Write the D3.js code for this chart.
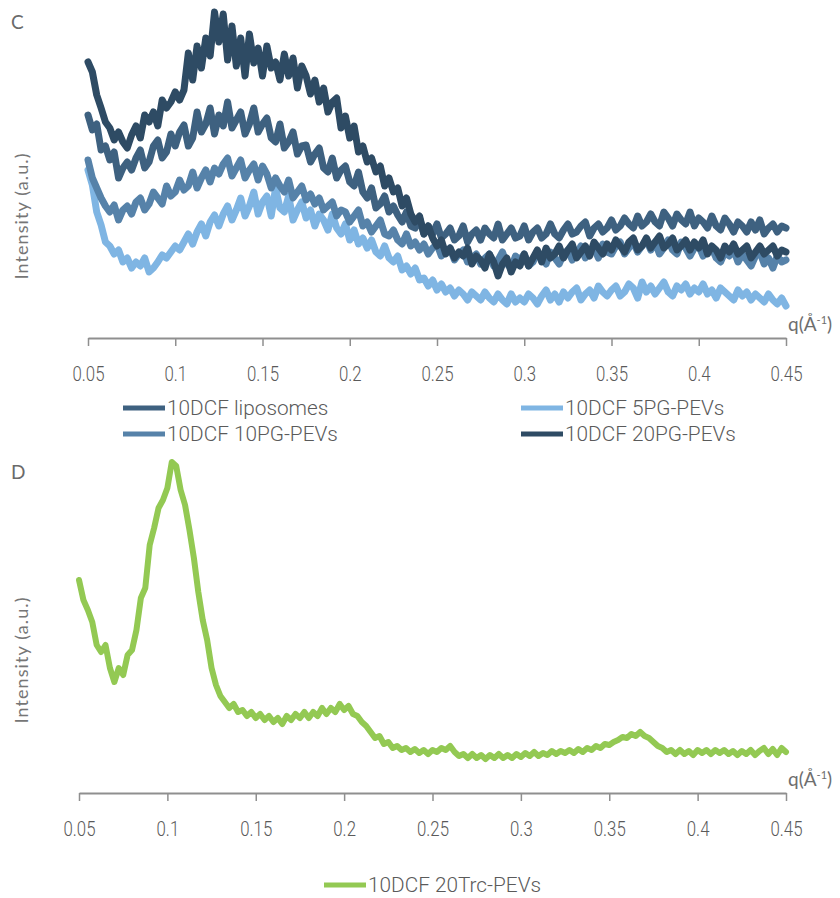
<!DOCTYPE html>
<html>
<head>
<meta charset="utf-8">
<script src="https://cdn.jsdelivr.net/npm/d3@7"></script>
<style>
  html, body { margin: 0; padding: 0; background: #ffffff; }
  svg { display: block; }
  .tick-label { font-family: "Roboto", "Liberation Sans", sans-serif; font-size: 21px; font-weight: 300; fill: #5a5a5a; }
  .legend-label { font-family: "Roboto", "Liberation Sans", sans-serif; font-size: 21px; font-weight: 300; fill: #5a5a5a; }
  .axis-title { font-family: "Lato", "Open Sans", sans-serif; font-size: 18px; fill: #767676; letter-spacing: 1.1px; }
  .q-title { font-family: "Lato", "Open Sans", sans-serif; font-size: 19px; fill: #6e6e6e; }
  .panel-letter { font-family: "Lato", "Open Sans", sans-serif; font-size: 19px; fill: #6a6a6a; }
</style>
</head>
<body>
<svg id="chart" width="840" height="898"></svg>
<script>
// q grid shared by every scattering curve (Å⁻¹)
const qStart = 0.05;
const qStep = 0.0025;

// x-axis ticks
const tickValues = [0.05, 0.1, 0.15, 0.2, 0.25, 0.3, 0.35, 0.4, 0.45];
const tickLabels = ["0.05", "0.1", "0.15", "0.2", "0.25", "0.3", "0.35", "0.4", "0.45"];

// Panel C series names
const seriesC = ["10DCF liposomes", "10DCF 5PG-PEVs", "10DCF 10PG-PEVs", "10DCF 20PG-PEVs"];
// Panel D series name
const seriesD = ["10DCF 20Trc-PEVs"];

// Panel C intensities (a.u.)
const liposomes = [
  223, 208, 214, 188, 192, 178, 186, 160, 170, 176,
  168, 180, 188, 170, 176, 192, 198, 180, 186, 204,
  192, 206, 213, 192, 200, 226, 206, 214, 230, 204,
  223, 212, 236, 210, 218, 226, 204, 214, 230, 206,
  214, 220, 200, 196, 214, 190, 196, 206, 184, 192,
  193, 176, 184, 190, 170, 166, 180, 160, 168, 172,
  156, 152, 166, 146, 140, 150, 130, 134, 142, 126,
  132, 123, 116, 126, 112, 110, 120, 104, 112, 104,
  114, 100, 104, 110, 98, 102, 112, 96, 104, 108,
  98, 110, 104, 100, 114, 98, 104, 110, 100, 102,
  112, 98, 106, 110, 100, 104, 114, 104, 100, 108,
  114, 104, 106, 112, 116, 102, 110, 114, 106, 110,
  118, 108, 112, 120, 114, 110, 122, 112, 116, 124,
  116, 112, 126, 120, 112, 124, 118, 114, 126, 112,
  120, 116, 110, 122, 112, 108, 120, 114, 106, 116,
  112, 106, 116, 108, 118, 104, 110, 114, 106, 112, 110
];
const pg5 = [
  168, 153, 126, 113, 96, 92, 84, 88, 76, 80,
  70, 76, 72, 80, 66, 70, 76, 83, 80, 86,
  92, 88, 96, 104, 94, 106, 114, 102, 116, 123,
  112, 124, 132, 118, 128, 140, 122, 132, 146, 124,
  136, 142, 122, 150, 130, 126, 142, 118, 128, 136,
  120, 128, 112, 124, 118, 108, 124, 110, 104, 114,
  98, 108, 94, 100, 90, 98, 86, 82, 92, 80,
  76, 82, 68, 72, 64, 70, 58, 60, 52, 58,
  48, 54, 46, 50, 42, 48, 44, 38, 46, 42,
  38, 46, 40, 36, 44, 38, 34, 44, 36, 40,
  36, 44, 40, 34, 42, 48, 38, 44, 36, 46,
  40, 46, 50, 38, 44, 48, 40, 52, 46, 42,
  48, 52, 42, 46, 54, 50, 40, 56, 46, 52,
  44, 50, 56, 46, 42, 52, 48, 54, 44, 50,
  46, 54, 44, 48, 40, 50, 46, 42, 38, 48,
  42, 46, 38, 44, 40, 36, 44, 38, 34, 40, 32
];
const pg10 = [
  178, 160, 150, 140, 132, 126, 133, 118, 128, 132,
  124, 136, 140, 128, 134, 146, 140, 134, 152, 142,
  146, 158, 148, 152, 166, 150, 160, 168, 156, 170,
  164, 174, 180, 162, 170, 178, 160, 168, 174, 158,
  172, 164, 150, 160, 152, 146, 158, 140, 146, 152,
  138, 144, 134, 140, 128, 132, 136, 122, 128, 126,
  116, 122, 128, 112, 116, 106, 112, 118, 104, 102,
  108, 98, 94, 104, 92, 96, 88, 94, 84, 90,
  94, 82, 86, 90, 78, 84, 88, 76, 80, 84,
  74, 80, 84, 72, 78, 86, 74, 70, 82, 78,
  84, 72, 76, 86, 80, 74, 86, 80, 74, 84,
  88, 78, 84, 92, 80, 86, 90, 80, 94, 86,
  84, 92, 96, 84, 90, 96, 86, 92, 98, 88,
  96, 84, 90, 98, 88, 84, 96, 90, 82, 90,
  92, 82, 86, 90, 80, 76, 86, 82, 88, 76,
  84, 78, 72, 82, 86, 74, 80, 70, 82, 76, 78
];
const pg20 = [
  276, 266, 243, 230, 216, 210, 198, 206, 196, 190,
  203, 212, 200, 223, 216, 226, 212, 238, 230, 236,
  246, 238, 248, 285, 258, 292, 270, 300, 282, 326,
  296, 324, 278, 312, 272, 300, 262, 304, 275, 290,
  262, 292, 270, 276, 258, 284, 262, 280, 250, 272,
  262, 244, 258, 236, 250, 226, 236, 240, 210, 222,
  200, 212, 186, 192, 176, 180, 166, 172, 152, 160,
  146, 150, 132, 140, 124, 116, 122, 104, 112, 100,
  92, 98, 84, 90, 80, 86, 82, 90, 74, 82,
  78, 70, 84, 76, 62, 74, 80, 66, 76, 72,
  84, 72, 80, 88, 76, 90, 80, 84, 92, 80,
  88, 94, 80, 86, 92, 82, 96, 90, 84, 94,
  88, 98, 92, 86, 96, 100, 88, 92, 100, 90,
  96, 102, 90, 94, 100, 88, 92, 98, 88, 96,
  90, 98, 84, 92, 88, 80, 92, 86, 94, 84,
  88, 92, 80, 86, 92, 84, 88, 92, 82, 88, 86
];

// Panel D intensities (a.u.)
const trc20 = [
  213, 193, 183, 171, 148, 141, 148, 125, 111, 125,
  118, 138, 143, 163, 195, 205, 248, 265, 285, 293,
  305, 331, 327, 303, 288, 263, 235, 201, 173, 153,
  125, 108, 97, 91, 85, 89, 81, 83, 77, 81,
  75, 79, 73, 77, 71, 75, 69, 77, 73, 79,
  75, 81, 75, 81, 77, 85, 79, 85, 81, 89,
  83, 87, 79, 77, 71, 67, 61, 55, 57, 49,
  51, 45, 47, 43, 45, 41, 44, 40, 43, 39,
  43, 41, 45, 43, 47, 41, 37, 39, 35, 39,
  35, 38, 34, 38, 35, 39, 35, 38, 35, 39,
  36, 40, 37, 41, 37, 40, 38, 42, 39, 42,
  40, 43, 40, 44, 41, 45, 43, 47, 45, 49,
  48, 51, 53, 56, 55, 59, 57, 61, 57, 55,
  51, 47, 45, 41, 43, 39, 43, 39, 42, 38,
  43, 40, 43, 39, 43, 40, 43, 39, 42, 38,
  42, 39, 43, 38, 42, 45, 39, 44, 38, 45, 41
];

const colors = {
  "10DCF liposomes": "#3e6180",
  "10DCF 5PG-PEVs": "#7fb5e3",
  "10DCF 10PG-PEVs": "#5682a9",
  "10DCF 20PG-PEVs": "#2e4b64",
  "10DCF 20Trc-PEVs": "#93c953"
};

const svg = d3.select("#chart");
const axisColor = "#8f8f8f";
const narrow = 0.8; // horizontal squeeze for the condensed tick labels

function toPoints(values) {
  return values.map((v, i) => ({ q: qStart + i * qStep, v }));
}

function drawPanel(cfg) {
  const x = d3.scaleLinear().domain([0.05, 0.45]).range([cfg.x0, cfg.x1]);
  const y = d3.scaleLinear().domain(cfg.yDomain).range([cfg.axisY, cfg.yTop]);
  const g = svg.append("g");

  const line = d3.line().x(d => x(d.q)).y(d => y(d.v)).curve(d3.curveLinear);

  cfg.series.forEach(s => {
    g.append("path")
      .datum(toPoints(s.values))
      .attr("fill", "none")
      .attr("stroke", colors[s.name])
      .attr("stroke-width", cfg.strokeWidth)
      .attr("stroke-linejoin", "round")
      .attr("stroke-linecap", "round")
      .attr("d", line);
  });

  // x axis with downward ticks
  const axis = d3.axisBottom(x)
    .tickValues(tickValues)
    .tickFormat((d, i) => tickLabels[i])
    .tickSize(8)
    .tickSizeOuter(0)
    .tickPadding(20);
  const ax = g.append("g").attr("transform", `translate(0,${cfg.axisY})`).call(axis);
  ax.attr("font-family", null).attr("font-size", null);
  ax.select(".domain").attr("stroke", axisColor).attr("stroke-width", 2);
  ax.selectAll(".tick line").attr("stroke", axisColor).attr("stroke-width", 1.5);
  ax.selectAll(".tick text")
    .attr("class", "tick-label")
    .attr("fill", null)
    .attr("transform", `scale(${narrow},1)`);

  // axis titles
  const qt = g.append("text").attr("class", "q-title")
    .attr("x", cfg.x1 + 2).attr("y", cfg.axisY - 7);
  qt.append("tspan").text("q(Å");
  qt.append("tspan").attr("dy", -7).attr("font-size", 11).text("-1");
  qt.append("tspan").attr("dy", 7).text(")");

  g.append("text").attr("class", "axis-title")
    .attr("transform", `translate(${cfg.yLabelX},${cfg.yLabelY}) rotate(-90)`)
    .attr("text-anchor", "middle")
    .text("Intensity (a.u.)");

  g.append("text").attr("class", "panel-letter")
    .attr("x", 11).attr("y", cfg.letterY).text(cfg.letter);

  return g;
}

function drawLegend(items) {
  items.forEach(it => {
    svg.append("line")
      .attr("x1", it.x).attr("x2", it.x + 42)
      .attr("y1", it.y).attr("y2", it.y)
      .attr("stroke", colors[it.name]).attr("stroke-width", 5);
    svg.append("text").attr("class", "legend-label")
      .attr("transform", `translate(${it.x + 44},${it.y + 7}) scale(0.99,1)`)
      .text(it.name);
  });
}

// Panel C
drawPanel({
  x0: 88, x1: 786, axisY: 338, yTop: 8, yDomain: [0, 330],
  strokeWidth: 7, letter: "C", letterY: 29, yLabelX: 28, yLabelY: 216,
  series: [
    { name: seriesC[1], values: pg5 },
    { name: seriesC[2], values: pg10 },
    { name: seriesC[0], values: liposomes },
    { name: seriesC[3], values: pg20 }
  ]
});

drawLegend([
  { name: seriesC[0], x: 123, y: 408 },
  { name: seriesC[1], x: 521, y: 408 },
  { name: seriesC[2], x: 123, y: 434 },
  { name: seriesC[3], x: 521, y: 434 }
]);

// Panel D
drawPanel({
  x0: 79, x1: 786, axisY: 793, yTop: 458, yDomain: [0, 335],
  strokeWidth: 6, letter: "D", letterY: 479, yLabelX: 28, yLabelY: 660,
  series: [
    { name: seriesD[0], values: trc20 }
  ]
});

drawLegend([
  { name: seriesD[0], x: 324, y: 885 }
]);
</script>
</body>
</html>
